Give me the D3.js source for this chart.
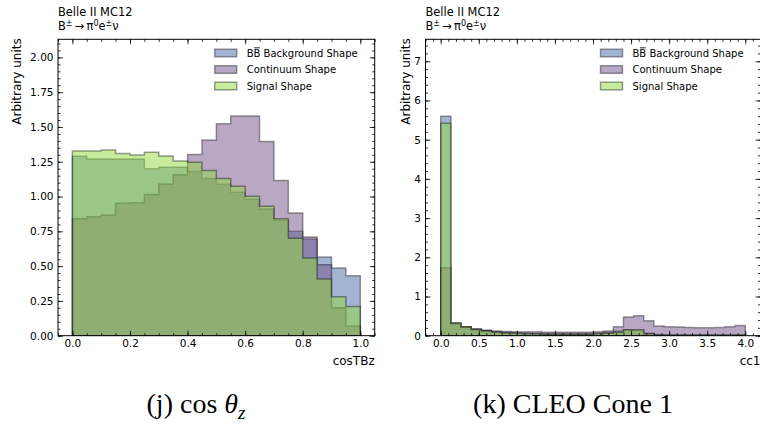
<!DOCTYPE html>
<html><head><meta charset="utf-8">
<script src="https://cdn.jsdelivr.net/npm/d3@7"></script>
<style>body{margin:0;background:#fff}svg{display:block}</style>
</head><body>
<script>
// ---------- data ----------
const seriesNames = ["BB Background Shape", "Continuum Shape", "Signal Shape"];
const titleLine1 = "Belle II MC12";

// Panel (j): cosTBz, 20 bins on [0,1]
const cosTBzRange = [0, 1];
const cosTBzNBins = 20;
const cosTBzBB   = [1.29,1.27,1.27,1.27,1.27,1.20,1.21,1.21,1.18,1.13,1.09,1.03,0.98,0.91,0.83,0.75,0.695,0.565,0.486,0.43];
const cosTBzCont = [0.84,0.854,0.868,0.952,0.955,1.014,1.09,1.156,1.303,1.406,1.524,1.579,1.579,1.396,1.115,0.882,0.709,0.51,0.20,0.07];
const cosTBzSig  = [1.327,1.327,1.334,1.31,1.298,1.319,1.291,1.255,1.247,1.187,1.13,1.074,1.002,0.93,0.84,0.70,0.558,0.407,0.28,0.21];
const cosTBzXTicks = [0,0.2,0.4,0.6,0.8,1.0];
const cosTBzXTickLabels = ["0.0","0.2","0.4","0.6","0.8","1.0"];
const cosTBzYTicks = [0,0.25,0.5,0.75,1.0,1.25,1.5,1.75,2.0];
const cosTBzYTickLabels = ["0.00","0.25","0.50","0.75","1.00","1.25","1.50","1.75","2.00"];

// Panel (k): cc1, 30 bins on [0,4]
const cc1Range = [0, 4];
const cc1NBins = 30;
const cc1BB   = [5.60,0.33,0.23,0.17,0.13,0.10,0.08,0.07,0.06,0.055,0.05,0.05,0.05,0.05,0.05,0.06,0.08,0.12,0.15,0.14,0.06,0.03,0.02,0.02,0.02,0.02,0.02,0.02,0.02,0.02];
const cc1Cont = [1.735,0.30,0.22,0.17,0.14,0.12,0.11,0.10,0.10,0.10,0.09,0.09,0.09,0.09,0.09,0.10,0.12,0.23,0.48,0.51,0.38,0.25,0.23,0.22,0.21,0.20,0.20,0.21,0.23,0.26];
const cc1Sig  = [5.42,0.32,0.22,0.16,0.12,0.09,0.07,0.06,0.05,0.05,0.04,0.04,0.04,0.04,0.04,0.05,0.06,0.09,0.15,0.15,0.05,0.02,0.02,0.02,0.02,0.02,0.02,0.02,0.02,0.02];
const cc1XTicks = [0,0.5,1.0,1.5,2.0,2.5,3.0,3.5,4.0];
const cc1XTickLabels = ["0.0","0.5","1.0","1.5","2.0","2.5","3.0","3.5","4.0"];
const cc1YTicks = [0,1,2,3,4,5,6,7];
const cc1YTickLabels = ["0","1","2","3","4","5","6","7"];

// ---------- style ----------
const colors = ["#4869a6", "#735287", "#91da3c"];
const fillOpacity = 0.5;
const font = "DejaVu Sans";

const W = 760, H = 426;
const svg = d3.select("body").append("svg").attr("width", W).attr("height", H);

function panel(o) {
  const g = svg.append("g");
  const x = d3.scaleLinear().domain(o.xDomain).range([o.left, o.right]);
  const y = d3.scaleLinear().domain(o.yDomain).range([o.bottom, o.top]);
  const edges = d3.range(o.nBins + 1).map(i => o.range[0] + i * (o.range[1] - o.range[0]) / o.nBins);

  const clip = "clip" + o.id;
  svg.append("clipPath").attr("id", clip).append("rect")
    .attr("x", o.left).attr("y", o.top).attr("width", o.right - o.left).attr("height", o.bottom - o.top);

  const line = d3.line().x(d => x(d[0])).y(d => y(d[1]));
  const hg = g.append("g").attr("clip-path", `url(#${clip})`);
  o.series.forEach((vals, si) => {
    const pts = [[edges[0], 0]];
    vals.forEach((v, i) => { pts.push([edges[i], v]); pts.push([edges[i + 1], v]); });
    pts.push([edges[edges.length - 1], 0]);
    hg.append("path").attr("d", line(pts) + "Z")
      .attr("fill", colors[si]).attr("fill-opacity", fillOpacity)
      .attr("stroke", "#000").attr("stroke-opacity", 0.38).attr("stroke-width", 1.5)
      .attr("stroke-linejoin", "miter");
  });

  // axes
  const minorX = d3.range(o.xDomain[0], o.xDomain[1] + 1e-9, o.xMinor).map(v => Math.round(v / o.xMinor) * o.xMinor)
    .filter(v => v >= o.xDomain[0] && v <= o.xDomain[1]);
  const minorY = d3.range(0, o.yDomain[1] + 1e-9, o.yMinor);
  const axes = [
    [d3.axisBottom(x), "x", o.bottom, 0, true],
    [d3.axisTop(x), "x", o.top, 0, false],
    [d3.axisLeft(y), "y", 0, o.left, true],
    [d3.axisRight(y), "y", 0, o.right, false]
  ];
  axes.forEach(([ax, dim, ty, tx, labels]) => {
    const maj = dim === "x" ? o.xTicks : o.yTicks;
    const labs = dim === "x" ? o.xTickLabels : o.yTickLabels;
    const mnr = dim === "x" ? minorX : minorY;
    const a1 = ax.tickValues(mnr).tickSize(-2.5).tickFormat("");
    const gm = g.append("g").attr("transform", `translate(${tx},${ty})`).call(a1);
    gm.select(".domain").remove();
    const a2 = (dim === "x" ? (ty === o.bottom ? d3.axisBottom(x) : d3.axisTop(x)) : (tx === o.left ? d3.axisLeft(y) : d3.axisRight(y)))
      .tickValues(maj).tickSize(-5).tickPadding(dim === "x" ? 4 : 4.5)
      .tickFormat(labels ? ((d, i) => labs[i]) : "");
    const gM = g.append("g").attr("transform", `translate(${tx},${ty})`).call(a2);
    gM.select(".domain").remove();
    gM.selectAll("text").attr("font-family", font).attr("font-size", 10.5).attr("fill", "#000");
    g.selectAll(".tick line").attr("stroke", "#000").attr("stroke-width", 0.8);
  });
  g.append("rect").attr("x", o.left).attr("y", o.top).attr("width", o.right - o.left).attr("height", o.bottom - o.top)
    .attr("fill", "none").attr("stroke", "#000").attr("stroke-width", 1);

  // titles
  g.append("text").attr("x", o.left).attr("y", 16).attr("font-family", font).attr("font-size", 11.4).text(titleLine1);
  const t2 = g.append("text").attr("x", o.left).attr("y", 30).attr("font-family", font).attr("font-size", 11.4);
  t2.append("tspan").text("B");
  t2.append("tspan").attr("dy", -4).attr("font-size", 8).text("±");
  t2.append("tspan").attr("dy", 4).text("\u2009\u2192\u2009\u03c0");
  t2.append("tspan").attr("dy", -4).attr("font-size", 8).text("0");
  t2.append("tspan").attr("dy", 4).text("e");
  t2.append("tspan").attr("dy", -4).attr("font-size", 8).text("±");
  t2.append("tspan").attr("dy", 4).text("\u03bd");

  // axis labels
  g.append("text").attr("transform", `translate(${o.left - o.ylabOffset},${o.top - 1}) rotate(-90)`)
    .attr("text-anchor", "end").attr("font-family", font).attr("font-size", 12).text("Arbitrary units");
  g.append("text").attr("x", o.right).attr("y", 365).attr("text-anchor", "end")
    .attr("font-family", font).attr("font-size", 12).text(o.xLabel);

  // legend
  const tx0 = o.right - 128;
  seriesNames.forEach((name, i) => {
    const cy = 53 + i * 16.5;
    g.append("rect").attr("x", tx0 - 32).attr("y", cy - 3.8).attr("width", 22).attr("height", 7.6)
      .attr("fill", colors[i]).attr("fill-opacity", fillOpacity)
      .attr("stroke", "#000").attr("stroke-opacity", 0.38).attr("stroke-width", 1.5);
    const t = g.append("text").attr("x", tx0).attr("y", cy + 3.7).attr("font-family", font).attr("font-size", 10).text(name);
    if (i === 0) {
      const n = t.node();
      const s = n.getStartPositionOfChar(1), e = n.getEndPositionOfChar(1);
      g.append("line").attr("x1", s.x + 0.5).attr("x2", e.x - 0.5).attr("y1", cy - 5.2).attr("y2", cy - 5.2)
        .attr("stroke", "#000").attr("stroke-width", 0.8);
    }
  });

  // caption
  const cap = svg.append("text").attr("x", o.capX).attr("y", 413).attr("text-anchor", "middle")
    .attr("font-family", "Liberation Serif").attr("font-size", 28);
  o.caption(cap);
}

panel({
  id: "j", left: 58, right: 374.7, top: 39.3, bottom: 335.7,
  xDomain: [-0.05, 1.05], yDomain: [0, 2.13],
  range: cosTBzRange, nBins: cosTBzNBins,
  series: [cosTBzBB, cosTBzCont, cosTBzSig],
  xTicks: cosTBzXTicks, xTickLabels: cosTBzXTickLabels, xMinor: 0.05,
  yTicks: cosTBzYTicks, yTickLabels: cosTBzYTickLabels, yMinor: 0.05,
  xLabel: "cosTBz", capX: 196, ylabOffset: 37,
  caption: t => { t.append("tspan").text("(j) cos "); t.append("tspan").attr("font-style", "italic").text("\u03b8");
    t.append("tspan").attr("font-style", "italic").attr("font-size", 19).attr("dy", 6).text("z"); }
});
panel({
  id: "k", left: 425.5, right: 760.5, top: 39.3, bottom: 335.7,
  xDomain: [-0.2, 4.2], yDomain: [0, 7.56],
  range: cc1Range, nBins: cc1NBins,
  series: [cc1BB, cc1Cont, cc1Sig],
  xTicks: cc1XTicks, xTickLabels: cc1XTickLabels, xMinor: 0.1,
  yTicks: cc1YTicks, yTickLabels: cc1YTickLabels, yMinor: 0.2,
  xLabel: "cc1", capX: 573, ylabOffset: 15.5,
  caption: t => { t.text("(k) CLEO Cone 1"); }
});
</script>
</body></html>
